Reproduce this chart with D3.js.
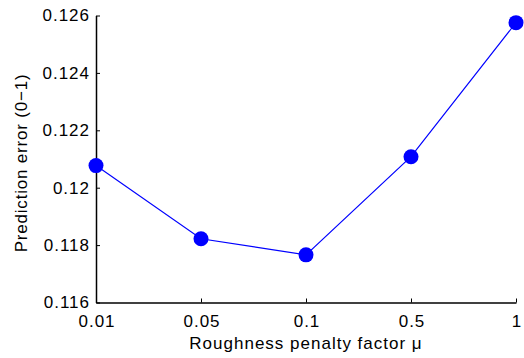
<!DOCTYPE html>
<html lang="en">
<head>
	<meta charset="UTF-8">
	<title>Prediction error vs roughness penalty</title>
	<script src="https://d3js.org/d3.v7.min.js"></script>
	<style>
		body { margin: 0; background: #fff; }
		text { font-family: "Liberation Sans", Arial, sans-serif; letter-spacing: 1px; }
	</style>
</head>
<body>
	<svg width="524" height="358"></svg>
	<script>
		// data
		var muLabels = ["0.01", "0.05", "0.1", "0.5", "1"];
		var errValues = [0.12077, 0.11822, 0.11766, 0.12108, 0.12575];
		var yTicks = [0.116, 0.118, 0.12, 0.122, 0.124, 0.126];

		var margin = {top: 15.5, right: 8, bottom: 55.5, left: 96};
		var width = 524 - margin.left - margin.right,
			height = 358 - margin.top - margin.bottom;

		var svg = d3.select("svg")
			.append("g")
			.attr("transform", "translate(" + margin.left + "," + margin.top + ")");

		var x = d3.scalePoint().domain(muLabels).range([0, 420]);
		var y = d3.scaleLinear().domain([0.116, 0.126]).range([height, 0]);

		// x axis, ticks pointing inward
		var xAxis = svg.append("g")
			.attr("transform", "translate(0," + height + ")")
			.call(d3.axisBottom(x).tickSizeInner(-4).tickSizeOuter(0).tickPadding(12));

		// y axis
		var yAxis = svg.append("g")
			.call(d3.axisLeft(y).tickValues(yTicks).tickFormat(function(d) { return +d.toFixed(3) + ""; })
				.tickSizeInner(-4).tickSizeOuter(0).tickPadding(6));

		[xAxis, yAxis].forEach(function(a) {
			a.select(".domain").attr("stroke", "#000").attr("stroke-width", 1.5);
			a.selectAll(".tick line").attr("stroke", "#000");
			a.selectAll(".tick text").style("font-size", "17px").attr("fill", "#000");
		});
		xAxis.selectAll(".tick text").attr("dx", "0.5px");

		// axis titles
		svg.append("text")
			.attr("x", 210)
			.attr("y", height + 46)
			.attr("text-anchor", "middle")
			.style("font-size", "17px")
			.text("Roughness penalty factor \u03bc");

		svg.append("text")
			.attr("transform", "translate(-69,147.5) rotate(-90)")
			.attr("text-anchor", "middle")
			.style("font-size", "17px")
			.style("letter-spacing", "0.8px")
			.text("Prediction error (0\u22121)");

		var pts = muLabels.map(function(m, i) { return {mu: m, err: errValues[i]}; });

		var line = d3.line()
			.x(function(d) { return x(d.mu); })
			.y(function(d) { return y(d.err); });

		svg.append("path")
			.datum(pts)
			.attr("fill", "none")
			.attr("stroke", "#0000ff")
			.attr("stroke-width", 1.2)
			.attr("d", line);

		svg.selectAll(".dot")
			.data(pts)
			.enter()
			.append("circle")
			.attr("cx", function(d) { return x(d.mu); })
			.attr("cy", function(d) { return y(d.err); })
			.attr("r", 7.5)
			.attr("fill", "#0000ff");
	</script>
</body>
</html>
